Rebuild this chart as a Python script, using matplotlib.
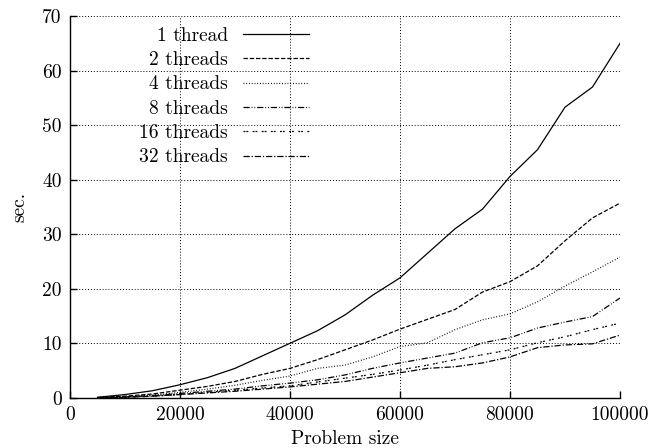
import matplotlib
matplotlib.use("Agg")
import matplotlib.pyplot as plt
import numpy as np

plt.rcParams['font.family'] = 'cmr10'
plt.rcParams['axes.formatter.use_mathtext'] = True
plt.rcParams['font.size'] = 14

# problem sizes and timings (sec.)
sizes = [5000, 10000, 15000, 20000, 25000, 30000, 35000, 40000, 45000, 50000,
         55000, 60000, 65000, 70000, 75000, 80000, 85000, 90000, 95000, 100000]
t1 = [0.1, 0.6, 1.3, 2.4, 3.7, 5.4, 7.7, 10.0, 12.3, 15.2,
      18.8, 22.0, 26.5, 31.0, 34.6, 40.6, 45.5, 53.3, 57.0, 65.0]
t2 = [0.05, 0.3, 0.7, 1.4, 2.1, 3.0, 4.3, 5.4, 7.0, 8.8,
      10.6, 12.6, 14.4, 16.2, 19.4, 21.3, 24.2, 28.8, 33.0, 35.7]
t4 = [0.05, 0.2, 0.5, 1.0, 1.6, 2.3, 3.2, 4.0, 5.4, 6.0,
      7.5, 9.4, 10.1, 12.5, 14.3, 15.4, 17.6, 20.5, 23.1, 25.8]
t8 = [0.03, 0.15, 0.4, 0.8, 1.2, 1.6, 2.2, 2.7, 3.3, 4.2,
      5.4, 6.4, 7.3, 8.2, 10.1, 11.0, 12.8, 13.9, 14.9, 18.3]
t16 = [0.03, 0.1, 0.3, 0.6, 1.0, 1.4, 1.8, 2.2, 2.9, 3.6,
       4.3, 5.1, 6.0, 7.0, 7.9, 8.8, 10.1, 11.2, 12.5, 13.7]
t32 = [0.03, 0.1, 0.3, 0.6, 0.9, 1.2, 1.6, 2.0, 2.5, 3.0,
       3.8, 4.6, 5.4, 5.7, 6.4, 7.5, 9.2, 9.7, 9.9, 11.5]
labels = ["1 thread", "2 threads", "4 threads", "8 threads", "16 threads", "32 threads"]

styles = ['-', (0, (3.5, 1.5)), (0, (0.7, 1.5)), (0, (5, 1.5, 0.7, 1.5, 0.7, 1.5)),
          (0, (1.5, 0.8, 1.5, 3.5)), (0, (5, 1.5, 1, 1.5))]

fig = plt.figure(figsize=(6.54, 4.48), dpi=100)
ax = fig.add_axes([0.107, 0.112, 0.841, 0.852])

for ys, lab, ls in zip([t1, t2, t4, t8, t16, t32], labels, styles):
    ax.plot(sizes, ys, color='black', lw=0.9, linestyle=ls, label=lab)

ax.set_xlim(0, 100000)
ax.set_ylim(0, 70)
ax.set_xticks(np.arange(0, 100001, 20000))
ax.set_yticks(np.arange(0, 71, 10))
ax.set_xticklabels([str(v) for v in range(0, 100001, 20000)])
ax.set_yticklabels([str(v) for v in range(0, 71, 10)])

ax.grid(True, color='black', linestyle=(0, (1, 2)), linewidth=0.7)
ax.spines['top'].set_visible(False)
ax.spines['right'].set_visible(False)
ax.spines['left'].set_linewidth(1.0)
ax.spines['bottom'].set_linewidth(1.0)
ax.tick_params(direction='in', length=5, width=1.0, pad=6)

ax.set_xlabel("Problem size", labelpad=4)
ax.set_ylabel("sec.", labelpad=10)

ax.legend(loc='upper right', bbox_to_anchor=(0.4725, 0.94), bbox_transform=fig.transFigure,
          frameon=False, markerfirst=False, borderpad=0, borderaxespad=0,
          handlelength=3.4, handletextpad=0.77, labelspacing=0.33)

fig.savefig("out.png", dpi=100)
